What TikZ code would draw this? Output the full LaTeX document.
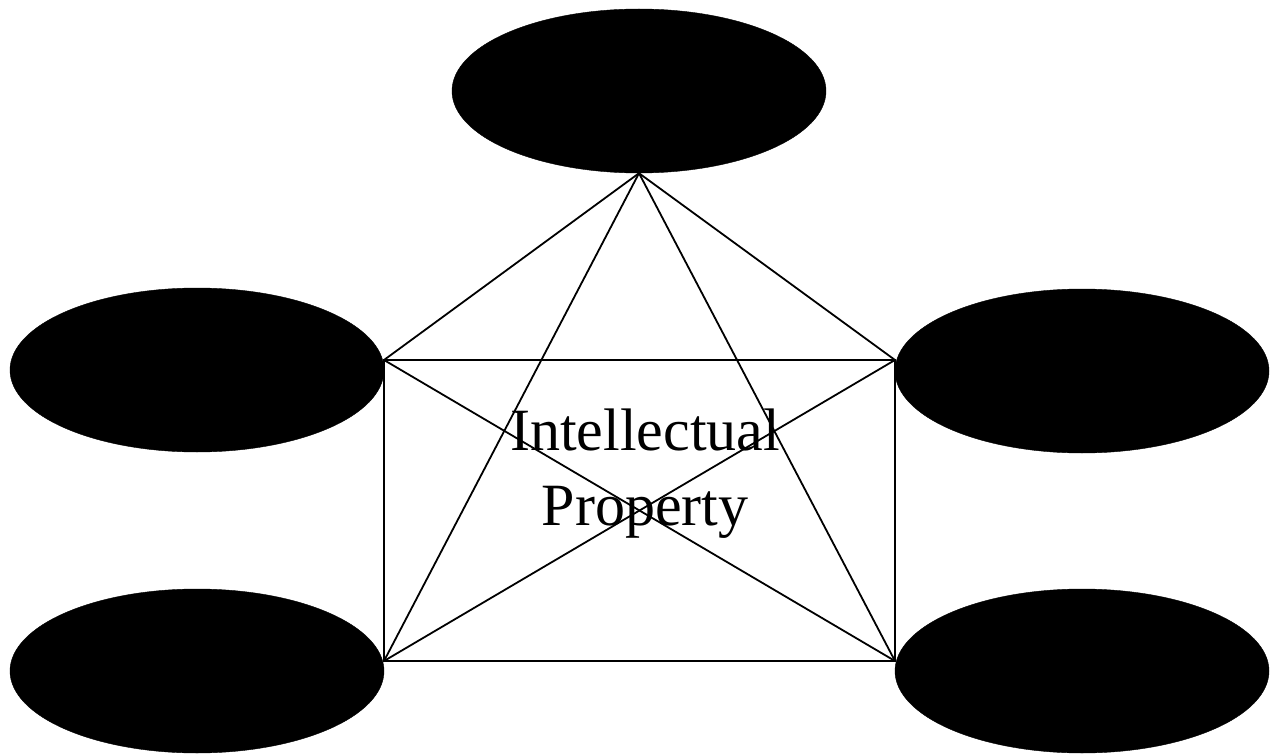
\documentclass[tikz,border=0pt]{standalone}
\usepackage{fontspec}
\setmainfont{Liberation Serif}
\usetikzlibrary{shapes.geometric}
\tikzset{
    blob/.style={ellipse, fill=black, draw=black, minimum width=374pt, minimum height=164pt, inner sep=0pt},
    link/.style={line width=1.8pt, black}
}
\begin{document}
\begin{tikzpicture}[x=1pt, y=-1pt]
    \useasboundingbox (0,0) rectangle (1279,754);

    % Ellipses
    \node[blob] (top) at (639,91) {};
    \node[blob] (midleft) at (197,370) {};
    \node[blob] (midright) at (1082,371) {};
    \node[blob] (lowleft) at (197,671) {};
    \node[blob] (lowright) at (1082,671) {};

    % Corners of the box
    \coordinate (apex) at (top.south);
    \coordinate (ul) at (384,360);
    \coordinate (ur) at (895,360);
    \coordinate (ll) at (384,661);
    \coordinate (lr) at (895,661);

    % Box and cross lines
    \draw[link] (ul) -- (ur) -- (lr) -- (ll) -- cycle;
    \draw[link] (ul) -- (lr);
    \draw[link] (ur) -- (ll);
    \foreach \c in {ul, ur, ll, lr} {
        \draw[link] (apex) -- (\c);
    }

    % Label
    \node[align=center, font=\fontsize{60}{75}\selectfont] (ip) at (645,474) {Intellectual\\Property};
\end{tikzpicture}
\end{document}
